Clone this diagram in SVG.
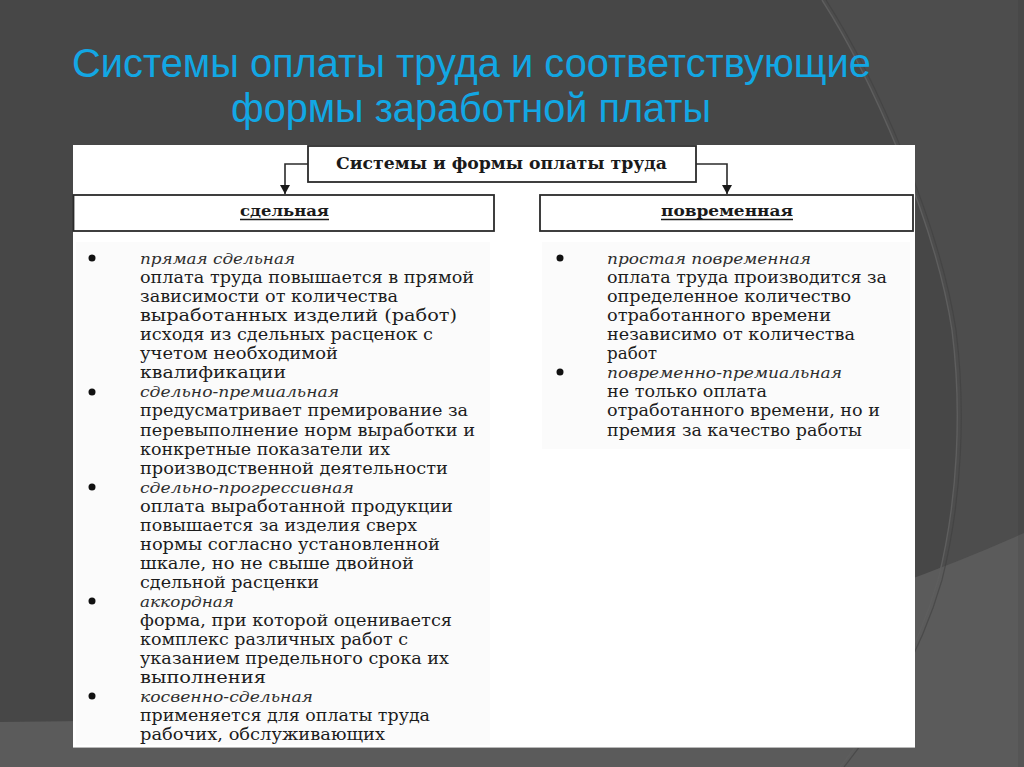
<svg xmlns="http://www.w3.org/2000/svg" width="1024" height="767" viewBox="0 0 1024 767">
  <defs>
    <style>
      .title { font-family: "Liberation Sans", Arial, sans-serif; font-size: 40px; fill: #12a7e4; }
      .box { fill: #ffffff; stroke: #2b2b2b; stroke-width: 1.8; }
      .hdr { font-family: "DejaVu Serif", "Liberation Serif", serif; font-weight: bold; font-size: 16px; fill: #1a1a1a; }
      .lbl { font-family: "DejaVu Serif", "Liberation Serif", serif; font-weight: bold; font-size: 15px; fill: #1a1a1a; }
      .ul { stroke: #1a1a1a; stroke-width: 1.3; }
      .body { font-family: "DejaVu Serif", "Liberation Serif", serif; font-size: 16.5px; fill: #1c1c1c; }
      .it { font-family: "DejaVu Serif", "Liberation Serif", serif; font-style: italic; font-size: 15px; fill: #2e2e2e; }
      .bul { fill: #111111; }
      .conn { fill: none; stroke: #2b2b2b; stroke-width: 1.6; }
    </style>
    <marker id="arr" markerUnits="userSpaceOnUse" markerWidth="10" markerHeight="10" refX="9" refY="5" orient="auto">
      <path d="M0,0 L9,5 L0,10 Z" fill="#1a1a1a"/>
    </marker>
  </defs>

  <!-- background -->
  <g id="background">
    <rect x="0" y="0" width="1024" height="767" fill="#474747"/>
    <path d="M822,0 C870,75 935,220 952,330 C962,410 958,500 938,580 C915,660 870,730 840,767 L1024,767 L1024,0 Z" fill="#4d4d4d"/>
    <path d="M0,722 Q600,722 1024,533 L1024,767 L0,767 Z" fill="#5b5b5b"/>
    <path d="M822,0 C870,75 935,220 952,330 C962,410 958,500 938,580 C915,660 870,730 840,767" fill="none" stroke="#5e5e5e" stroke-width="1.4"/>
    <path d="M826,0 C874,75 939,220 956,330 C966,410 962,500 942,580 C919,660 874,730 844,767" fill="none" stroke="#3f3f3f" stroke-width="1.2" opacity="0.6"/>
    <rect x="1018" y="0" width="6" height="767" fill="#000" opacity="0.06"/>
  </g>

  <!-- title -->
  <g id="title">
    <text class="title" x="72" y="77" textLength="799" lengthAdjust="spacingAndGlyphs">Системы оплаты труда и соответствующие</text>
    <text class="title" x="231" y="122" textLength="480" lengthAdjust="spacingAndGlyphs">формы заработной платы</text>
  </g>

  <!-- panel -->
  <g id="panel">
    <rect x="73" y="145" width="842" height="602" fill="#ffffff"/>
    <line x1="73" y1="747.5" x2="915" y2="747.5" stroke="#b8b8b8" stroke-width="1"/>
    <rect x="76" y="242" width="414" height="503" fill="#f7f7f7" opacity="0.5"/>
    <rect x="542" y="242" width="368" height="207" fill="#f7f7f7" opacity="0.5"/>
  </g>

  <!-- connectors -->
  <g id="connectors">
    <polyline class="conn" points="308,164 285,164 285,194" marker-end="url(#arr)"/>
    <polyline class="conn" points="696,164 727,164 727,194" marker-end="url(#arr)"/>
  </g>

  <!-- nodes -->
  <g id="node-root">
    <rect class="box" x="308" y="146" width="388" height="36"/>
    <text class="hdr" x="336" y="169" textLength="331" lengthAdjust="spacingAndGlyphs">Системы и формы оплаты труда</text>
  </g>

  <g id="node-piece">
    <rect class="box" x="73.5" y="195" width="420.5" height="36"/>
    <text class="lbl" x="240" y="216" textLength="89" lengthAdjust="spacingAndGlyphs">сдельная</text>
    <line class="ul" x1="240" y1="219.5" x2="329" y2="219.5"/>
  </g>

  <g id="node-time">
    <rect class="box" x="540" y="195" width="373" height="36"/>
    <text class="lbl" x="661" y="216" textLength="132" lengthAdjust="spacingAndGlyphs">повременная</text>
    <line class="ul" x1="661" y1="219.5" x2="793" y2="219.5"/>
  </g>

  <!-- left list -->
  <g id="list-piece">
    <circle class="bul" cx="92" cy="258" r="3.5"/>
    <circle class="bul" cx="92" cy="392" r="3.5"/>
    <circle class="bul" cx="92" cy="487" r="3.5"/>
    <circle class="bul" cx="92" cy="601" r="3.5"/>
    <circle class="bul" cx="92" cy="696" r="3.5"/>
    <text class="it" x="140" y="264" textLength="155" lengthAdjust="spacingAndGlyphs">прямая сдельная</text>
    <text class="body" x="140" y="283" textLength="334" lengthAdjust="spacingAndGlyphs">оплата труда повышается в прямой</text>
    <text class="body" x="140" y="302" textLength="258" lengthAdjust="spacingAndGlyphs">зависимости от количества</text>
    <text class="body" x="140" y="321" textLength="317" lengthAdjust="spacingAndGlyphs">выработанных изделий (работ)</text>
    <text class="body" x="140" y="340" textLength="293" lengthAdjust="spacingAndGlyphs">исходя из сдельных расценок с</text>
    <text class="body" x="140" y="359" textLength="198" lengthAdjust="spacingAndGlyphs">учетом необходимой</text>
    <text class="body" x="140" y="378" textLength="146" lengthAdjust="spacingAndGlyphs">квалификации</text>
    <text class="it" x="140" y="397" textLength="199" lengthAdjust="spacingAndGlyphs">сдельно-премиальная</text>
    <text class="body" x="140" y="416" textLength="328" lengthAdjust="spacingAndGlyphs">предусматривает премирование за</text>
    <text class="body" x="140" y="435.5" textLength="335" lengthAdjust="spacingAndGlyphs">перевыполнение норм выработки и</text>
    <text class="body" x="140" y="454.5" textLength="250" lengthAdjust="spacingAndGlyphs">конкретные показатели их</text>
    <text class="body" x="140" y="473.5" textLength="308" lengthAdjust="spacingAndGlyphs">производственной деятельности</text>
    <text class="it" x="140" y="492.5" textLength="214" lengthAdjust="spacingAndGlyphs">сдельно-прогрессивная</text>
    <text class="body" x="140" y="511.5" textLength="313" lengthAdjust="spacingAndGlyphs">оплата выработанной продукции</text>
    <text class="body" x="140" y="530.5" textLength="277" lengthAdjust="spacingAndGlyphs">повышается за изделия сверх</text>
    <text class="body" x="140" y="549.5" textLength="300" lengthAdjust="spacingAndGlyphs">нормы согласно установленной</text>
    <text class="body" x="140" y="568.5" textLength="274" lengthAdjust="spacingAndGlyphs">шкале, но не свыше двойной</text>
    <text class="body" x="140" y="587.5" textLength="179" lengthAdjust="spacingAndGlyphs">сдельной расценки</text>
    <text class="it" x="140" y="606.5" textLength="94" lengthAdjust="spacingAndGlyphs">аккордная</text>
    <text class="body" x="140" y="626" textLength="312" lengthAdjust="spacingAndGlyphs">форма, при которой оценивается</text>
    <text class="body" x="140" y="645" textLength="268" lengthAdjust="spacingAndGlyphs">комплекс различных работ с</text>
    <text class="body" x="140" y="664" textLength="309" lengthAdjust="spacingAndGlyphs">указанием предельного срока их</text>
    <text class="body" x="140" y="683" textLength="126" lengthAdjust="spacingAndGlyphs">выполнения</text>
    <text class="it" x="140" y="702" textLength="173" lengthAdjust="spacingAndGlyphs">косвенно-сдельная</text>
    <text class="body" x="140" y="721" textLength="290" lengthAdjust="spacingAndGlyphs">применяется для оплаты труда</text>
    <text class="body" x="140" y="740" textLength="245" lengthAdjust="spacingAndGlyphs">рабочих, обслуживающих</text>
  </g>

  <!-- right list -->
  <g id="list-time">
    <circle class="bul" cx="560" cy="258" r="3.5"/>
    <circle class="bul" cx="560" cy="372" r="3.5"/>
    <text class="it" x="607" y="264" textLength="204" lengthAdjust="spacingAndGlyphs">простая повременная</text>
    <text class="body" x="607" y="283" textLength="280" lengthAdjust="spacingAndGlyphs">оплата труда производится за</text>
    <text class="body" x="607" y="302" textLength="244" lengthAdjust="spacingAndGlyphs">определенное количество</text>
    <text class="body" x="607" y="321" textLength="224" lengthAdjust="spacingAndGlyphs">отработанного времени</text>
    <text class="body" x="607" y="340" textLength="248" lengthAdjust="spacingAndGlyphs">независимо от количества</text>
    <text class="body" x="607" y="359" textLength="50" lengthAdjust="spacingAndGlyphs">работ</text>
    <text class="it" x="607" y="378" textLength="235" lengthAdjust="spacingAndGlyphs">повременно-премиальная</text>
    <text class="body" x="607" y="397" textLength="160" lengthAdjust="spacingAndGlyphs">не только оплата</text>
    <text class="body" x="607" y="416" textLength="273" lengthAdjust="spacingAndGlyphs">отработанного времени, но и</text>
    <text class="body" x="607" y="435.5" textLength="255" lengthAdjust="spacingAndGlyphs">премия за качество работы</text>
  </g>
</svg>
